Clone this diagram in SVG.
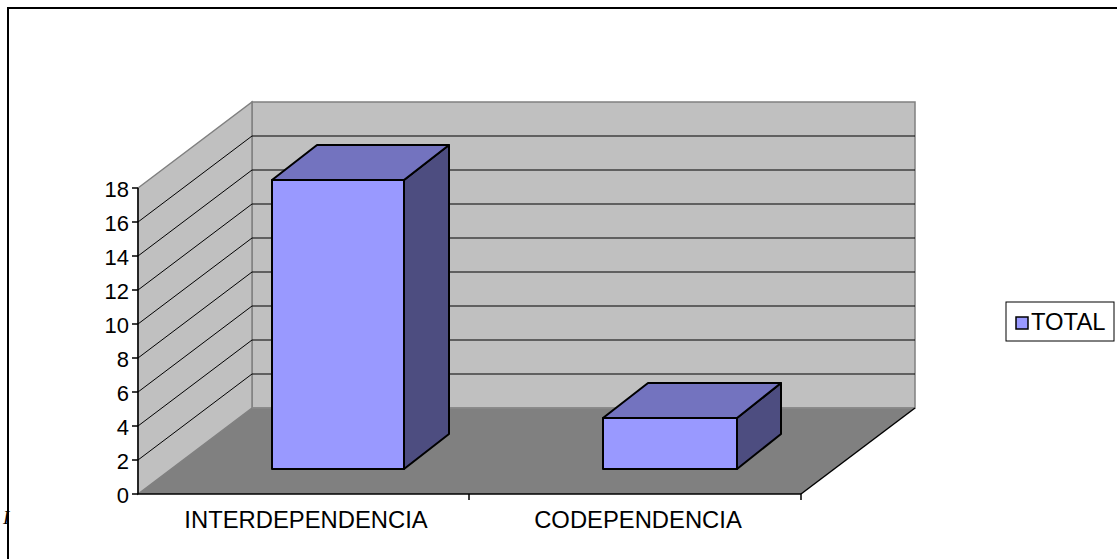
<svg xmlns="http://www.w3.org/2000/svg" width="1117" height="559" viewBox="0 0 1117 559">
<style>
.wall{fill:#C0C0C0;stroke:#808080;stroke-width:1.5}
.grid{stroke:#000;stroke-width:1;fill:none}
.ax{stroke:#000;stroke-width:1.5;fill:none}
.front{fill:#9999FF;stroke:#000;stroke-width:2;stroke-linejoin:round}
.top{fill:#7373BF;stroke:#000;stroke-width:2;stroke-linejoin:round}
.side{fill:#4D4D80;stroke:#000;stroke-width:2;stroke-linejoin:round}
.num{font-family:"Liberation Sans",Arial,sans-serif;font-size:22px;fill:#000;text-anchor:end}
.lbl{font-family:"Liberation Sans",Arial,sans-serif;font-size:23.8px;fill:#000;text-anchor:middle}
</style>
<rect width="1117" height="559" fill="#fff"/>
<g id="plot-area">
<polygon class="wall" points="252,102 915,102 915,408 252,408"/>
<polygon class="wall" points="138,188 252,102 252,408 138,494"/>
<polygon points="138,494 252,408 915,408 801,494" fill="#808080"/>
<line x1="252" y1="408" x2="915" y2="408" stroke="#8a8a8a" stroke-width="1.5"/>
<line x1="915" y1="408" x2="801" y2="494" class="ax"/>
</g>
<g id="gridlines">
<path class="grid" d="M252,136H915M252,170H915M252,204H915M252,238H915M252,272H915M252,306H915M252,340H915M252,374H915"/>
<path class="grid" d="M138,222L252,136M138,256L252,170M138,290L252,204M138,324L252,238M138,358L252,272M138,392L252,306M138,426L252,340M138,460L252,374"/>
</g>
<g id="axes">
<path class="ax" d="M138,188V494H801"/>
<path class="ax" d="M132,188H138M132,222H138M132,256H138M132,290H138M132,324H138M132,358H138M132,392H138M132,426H138M132,460H138M132,494H138"/>
<path class="ax" d="M469,494V500M801,494V500"/>
<text class="num" x="129" y="197">18</text>
<text class="num" x="129" y="231">16</text>
<text class="num" x="129" y="265">14</text>
<text class="num" x="129" y="299">12</text>
<text class="num" x="129" y="333">10</text>
<text class="num" x="129" y="367">8</text>
<text class="num" x="129" y="401">6</text>
<text class="num" x="129" y="435">4</text>
<text class="num" x="129" y="469">2</text>
<text class="num" x="129" y="503">0</text>
<text class="lbl" x="306" y="528">INTERDEPENDENCIA</text>
<text class="lbl" x="638" y="528">CODEPENDENCIA</text>
</g>
<g id="bar-interdependencia">
<polygon class="side" points="404,180 449,145 449,434 404,469"/>
<polygon class="top" points="272,180 317,145 449,145 404,180"/>
<rect class="front" x="272" y="180" width="132" height="289"/>
</g>
<g id="bar-codependencia">
<polygon class="side" points="737,418 781,383 781,434 737,469"/>
<polygon class="top" points="603,418 648,383 781,383 737,418"/>
<rect class="front" x="603" y="418" width="134" height="51"/>
</g>
<g id="legend">
<rect x="1006" y="302" width="108" height="39" fill="#fff" stroke="#000" stroke-width="1"/>
<rect x="1016" y="317" width="12" height="12" fill="#9999FF" stroke="#000" stroke-width="1.5"/>
<text x="1031" y="330" font-family="Liberation Sans, Arial, sans-serif" font-size="23.8" fill="#000">TOTAL</text>
</g>
<text x="3" y="524" font-family="Liberation Serif, Times New Roman, serif" font-style="italic" font-size="19" fill="#000">I</text>
<rect id="frame" x="8" y="8" width="1130" height="570" fill="none" stroke="#000" stroke-width="2"/>
</svg>
